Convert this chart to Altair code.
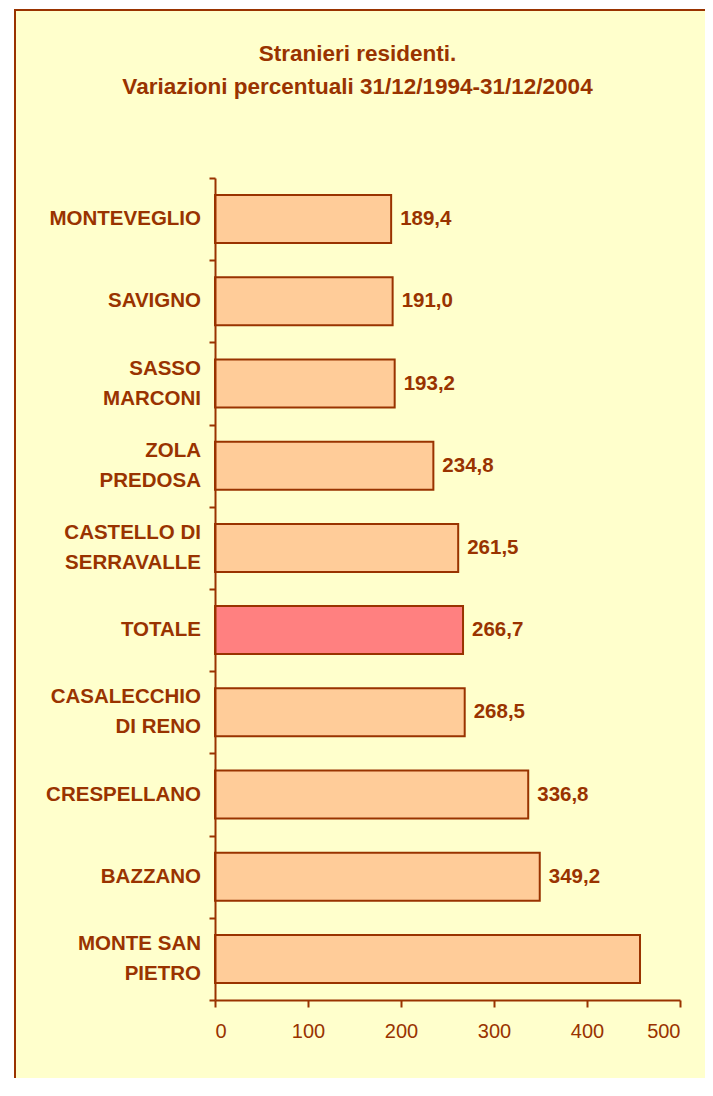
import altair as alt
import pandas as pd

# ---- data ----
categories = [
    "MONTEVEGLIO",
    "SAVIGNO",
    "SASSO\nMARCONI",
    "ZOLA\nPREDOSA",
    "CASTELLO DI\nSERRAVALLE",
    "TOTALE",
    "CASALECCHIO\nDI RENO",
    "CRESPELLANO",
    "BAZZANO",
    "MONTE SAN\nPIETRO",
]
values = [189.4, 191.0, 193.2, 234.8, 261.5, 266.7, 268.5, 336.8, 349.2, 457.0]
labelled = categories[:-1]  # the reference shows no value next to the last bar
highlight = "TOTALE"
x_ticks = [0, 100, 200, 300, 400, 500]
title_lines = ["Stranieri residenti.", "Variazioni percentuali 31/12/1994-31/12/2004"]

one_line = [c for c in categories if "\n" not in c]
two_lines = [c for c in categories if "\n" in c]

df = pd.DataFrame({"comune": categories, "valore": values})

DARK = "#993300"
FILL = "#FFCC99"
HILITE = "#FF8080"
BG = "#FFFFCC"
FONT = "Liberation Sans"

W, H = 465, 822

frame = alt.Chart(pd.DataFrame({"a": [0]})).mark_rect(
    fill=BG, stroke=DARK, strokeWidth=2
).encode(
    x=alt.value(-200), x2=alt.value(700),
    y=alt.value(-168), y2=alt.value(1100),
)

y_enc = alt.Y(
    "comune:N",
    sort=categories,
    scale=alt.Scale(paddingInner=0, paddingOuter=0),
    axis=alt.Axis(
        title=None,
        tickBand="extent",
        labels=False,
        tickSize=6,
        tickColor=DARK,
        tickWidth=2,
        domainColor=DARK,
        domainWidth=2,
        zindex=2,
    ),
)

x_enc = alt.X(
    "valore:Q",
    scale=alt.Scale(domain=[0, 500], nice=False),
    axis=alt.Axis(
        title=None,
        values=x_ticks,
        grid=False,
        labelFont=FONT,
        labelFontSize=20,
        labelColor=DARK,
        labelPadding=14,
        tickSize=7,
        tickColor=DARK,
        tickWidth=2,
        domainColor=DARK,
        domainWidth=2,
        zindex=2,
    ),
)

bars = alt.Chart(df).mark_bar(
    stroke=DARK, strokeWidth=2, height=alt.RelativeBandSize(0.584)
).encode(
    y=y_enc,
    x=x_enc,
    color=alt.condition(
        alt.datum.comune == highlight, alt.value(HILITE), alt.value(FILL)
    ),
)


def category_labels(subset, shift):
    return alt.Chart(df).transform_filter(
        alt.FieldOneOfPredicate(field="comune", oneOf=subset)
    ).transform_calculate(
        righe="split(datum.comune, '\\n')"
    ).mark_text(
        align="right", baseline="middle", dy=shift, lineHeight=30,
        font=FONT, fontSize=20.5, fontWeight="bold", color=DARK,
    ).encode(
        y=alt.Y("comune:N", sort=categories),
        x=alt.value(-14),
        text="righe:N",
    )


cat_one = category_labels(one_line, 0)
cat_two = category_labels(two_lines, -15)

values_text = alt.Chart(df).transform_filter(
    alt.FieldOneOfPredicate(field="comune", oneOf=labelled)
).transform_calculate(
    testo="replace(format(datum.valore, '.1f'), '.', ',')"
).mark_text(
    align="left", baseline="middle", dx=9,
    font=FONT, fontSize=20.5, fontWeight="bold", color=DARK,
).encode(
    y=alt.Y("comune:N", sort=categories),
    x=alt.X("valore:Q"),
    text="testo:N",
)

chart = alt.layer(frame, bars, values_text, cat_one, cat_two).properties(
    width=W,
    height=H,
    padding={"left": 207, "top": 170, "right": 25, "bottom": 78},
    autosize=alt.AutoSizeParams(type="none"),
    title=alt.TitleParams(
        text=title_lines,
        font=FONT,
        fontSize=22.5,
        fontWeight="bold",
        color=DARK,
        anchor="middle",
        frame="group",
        dx=-90,
        dy=89,
        offset=0,
        lineHeight=33,
        zindex=3,
    ),
).configure(
    background="white",
).configure_view(
    stroke=None,
)

chart.save("out.html", embed_options={"renderer": "svg", "actions": False})
